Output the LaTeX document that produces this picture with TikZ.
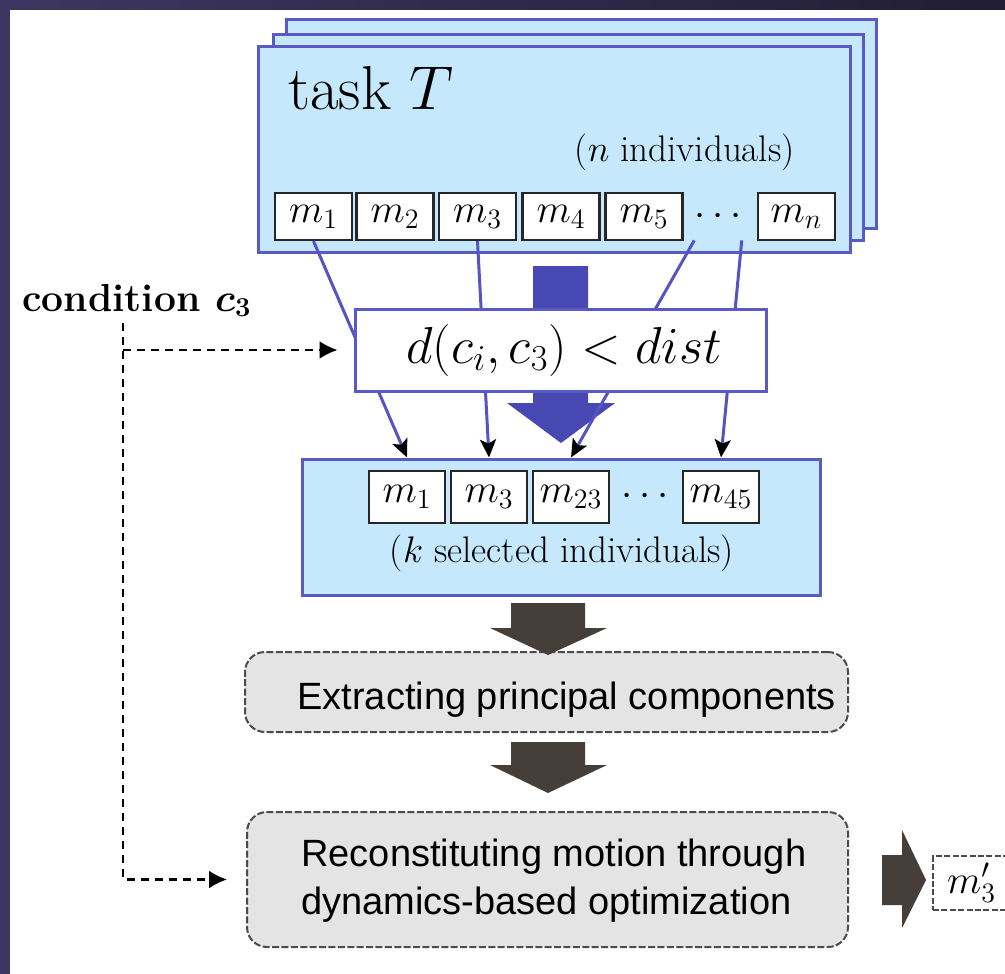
\documentclass[tikz,border=0pt]{standalone}
\usepackage{fix-cm}
\usepackage{fontspec}
\newfontfamily\sansf{Liberation Sans}
\usetikzlibrary{arrows.meta,fit}
\definecolor{frameL}{RGB}{62,54,98}
\definecolor{frameR}{RGB}{32,30,52}
\definecolor{cardfill}{RGB}{198,232,252}
\definecolor{cardline}{RGB}{90,90,196}
\definecolor{bigblue}{RGB}{72,72,178}
\definecolor{linkblue}{RGB}{84,84,196}
\definecolor{darkarrow}{RGB}{70,62,57}
\definecolor{boxgray}{RGB}{228,228,228}
\definecolor{boxline}{RGB}{75,75,75}
\tikzset{
  card/.style={draw=cardline, fill=cardfill, line width=1.5pt, inner sep=0pt},
  mbox/.style={draw=black!85, fill=white, line width=1.1pt, inner sep=0pt,
    minimum width=38.5pt, minimum height=23.5pt, font=\fontsize{20}{24}\selectfont},
  sbox/.style={mbox, minimum width=38pt, minimum height=26pt},
  link/.style={draw=linkblue, line width=1.5pt,
    -{Stealth[length=9pt,width=8pt,inset=2pt,color=black]}},
  dconn/.style={draw=black, line width=1.2pt, dash pattern=on 4pt off 3pt,
    -{Latex[length=9pt,width=9pt,color=black]}},
  graybox/.style={draw=boxline, fill=boxgray, line width=1pt, rounded corners=10pt,
    dash pattern=on 3.5pt off 1.2pt, inner sep=0pt},
  darrow/.style={fill=darkarrow},
  serifmid/.style={font=\fontsize{18.5}{22}\selectfont},
  sans19/.style={font=\sansf\fontsize{19}{24}\selectfont}
}
\begin{document}
\begin{tikzpicture}[x=0.5pt,y=-0.5pt]
\useasboundingbox (0,0) rectangle (1005,973);
\clip (0,0) rectangle (1005,973);
\shade[left color=frameL,right color=frameR] (-5,-5) rectangle (1010,980);
\fill[white] (10,10) rectangle (1015,985);

% stacked task cards
\node[card, fit={(286,20) (876,228)}] (back) {};
\node[card, fit={(273,35) (863,240)}] (middle) {};
\node[card, fit={(258,47) (850,252)}] (front) {};
\node[anchor=base west, inner sep=0pt, font=\fontsize{31}{36}\selectfont] (title) at (288,110) {task $T$};
\node[anchor=base east, inner sep=0pt, serifmid] (nind) at (795,162) {($n$ individuals)};

\node[mbox] (tm1) at (313.5,216.5) {$m_1$};
\node[mbox] (tm2) at (395,216.5) {$m_2$};
\node[mbox] (tm3) at (477.5,216.5) {$m_3$};
\node[mbox] (tm4) at (561,216.5) {$m_4$};
\node[mbox] (tm5) at (644,216.5) {$m_5$};
\node[inner sep=0pt, minimum width=22pt, minimum height=23.5pt, font=\fontsize{20}{24}\selectfont] (tdots) at (718,216.5) {$\cdots$};
\node[mbox] (tmn) at (796.5,216.5) {$m_n$};

% selected box
\node[card, fit={(302,459) (820,595)}] (sel) {};
\node[sbox] (sm1) at (407,497) {$m_1$};
\node[sbox] (sm3) at (489,497) {$m_3$};
\node[sbox] (sm23) at (571,497) {$m_{23}$};
\node[inner sep=0pt, font=\fontsize{20}{24}\selectfont] (sdots) at (645,497) {$\cdots$};
\node[sbox] (sm45) at (721,497) {$m_{45}$};
\node[inner sep=0pt, serifmid] (kind) at (562,553) {($k$ selected individuals)};

% big blue arrow
\fill[bigblue] (533,266) -- (588,266) -- (588,403) -- (615,403) -- (561,443) -- (507,403) -- (533,403) -- cycle;

% selection links
\coordinate (e1) at (sm1.north |- sel.north);
\coordinate (e3) at (sm3.north |- sel.north);
\coordinate (e23) at (sm23.north |- sel.north);
\coordinate (e45) at (sm45.north |- sel.north);
\draw[link] (tm1.south) -- (e1);
\draw[link] (tm3.south) -- (e3);
\draw[link] (tdots.south west) -- (e23);
\draw[link] (tdots.south east) -- (e45);

% condition box
\node[card, fill=white, fit={(355,309) (766,391)}] (cond) {};
\node[inner sep=0pt, font=\fontsize{26}{30}\selectfont] (condtext) at (564,350) {$d(c_i,c_3)<dist$};

% condition label
\node[anchor=base west, inner sep=0pt, font=\bfseries\boldmath\fontsize{19.5}{22}\selectfont] (clabel) at (22,311) {condition $c_3$};

% gray boxes
\node[graybox, fit={(245,652) (848,732)}] (extract) {};
\node[anchor=west, inner sep=0pt, sans19] (extext) at (297,700) {Extracting principal components};
\node[graybox, fit={(247,812) (848,947)}] (recon) {};
\node[anchor=west, inner sep=0pt, align=left, sans19] (retext) at (301,881) {Reconstituting motion through\\dynamics-based optimization};

% dark arrows
\fill[darrow] (511,603) -- (585,603) -- (585,628) -- (607,628) -- (548,655) -- (490,628) -- (511,628) -- cycle;
\fill[darrow] (511,742) -- (585,742) -- (585,765) -- (607,765) -- (548,793) -- (490,765) -- (511,765) -- cycle;
\fill[darrow] (882,855) -- (902,855) -- (902,830) -- (926,880) -- (902,928) -- (902,905) -- (882,905) -- cycle;

% output
\node[draw=boxline, line width=1pt, dash pattern=on 3pt off 1.2pt, anchor=west, minimum height=25pt,
  text width=40pt, inner xsep=7pt, align=left, font=\fontsize{20}{24}\selectfont] (mout) at (932,883) {$m'_3$};

% condition dashed connectors
\coordinate (c0) at (123,323);
\draw[dconn, shorten >=8pt] (c0 |- cond.west) -- (cond.west);
\draw[dconn, shorten >=9.5pt] (c0) -- (c0 |- recon.west) -- (recon.west);
\end{tikzpicture}
\end{document}
